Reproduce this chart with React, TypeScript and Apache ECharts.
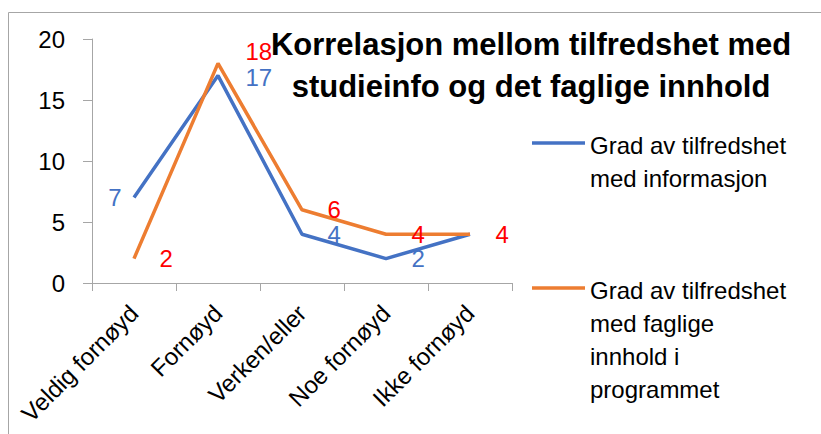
import React, { useEffect, useRef } from "react";
import * as echarts from "echarts";

const categories = ["Veldig fornøyd", "Fornøyd", "Verken/eller", "Noe fornøyd", "Ikke fornøyd"];
const infoValues = [7, 17, 4, 2, 4];
const fagligValues = [2, 18, 6, 4, 4];
const seriesNames = [
  "Grad av tilfredshet med informasjon",
  "Grad av tilfredshet med faglige innhold i programmet",
];
const legendLines = [
  ["Grad av tilfredshet", "med informasjon"],
  ["Grad av tilfredshet", "med faglige", "innhold i", "programmet"],
];
const titleText = "Korrelasjon mellom tilfredshet med\nstudieinfo og det faglige innhold";
const yMin = 0;
const yMax = 20;
const yInterval = 5;

const BLUE = "#4472C4";
const ORANGE = "#ED7D31";
const RED = "#FF0000";
const GREY = "#A6A6A6";
const FONT = "'Liberation Sans', Arial, sans-serif";

export default function App() {
  const ref = useRef<HTMLDivElement>(null);
  useEffect(() => {
    if (!ref.current) return;
    const chart = echarts.init(ref.current, null, { renderer: "svg" });

    const infoData = infoValues.map((v, i) => {
      if (i === 0) return { value: v, label: { position: "left", distance: 12 } };
      if (i === 1) return { value: v, label: { distance: 27, offset: [0, 2] } };
      if (i === infoValues.length - 1) return { value: v, label: { show: false } };
      return v;
    });
    const fagligData = fagligValues.map((v, i) => {
      if (i === 1) return { value: v, label: { distance: 27, offset: [0, -12] } };
      return v;
    });

    const legendGraphics: any[] = [];
    const legendTops = [128.5, 273.5];
    const legendIconY = [143, 288];
    const colors = [BLUE, ORANGE];
    legendLines.forEach((lines, i) => {
      legendGraphics.push({
        type: "line",
        shape: { x1: 532, y1: legendIconY[i], x2: 585, y2: legendIconY[i] },
        style: { stroke: colors[i], lineWidth: 3.5 },
      });
      legendGraphics.push({
        type: "text",
        x: 590,
        y: legendTops[i],
        style: {
          text: lines.join("\n"),
          fontSize: 24,
          fontFamily: FONT,
          lineHeight: 33,
          fill: "#000",
          verticalAlign: "top",
          align: "left",
        },
      });
    });

    const transparent = "rgba(0,0,0,0)";

    chart.setOption({
      animation: false,
      textStyle: { fontFamily: FONT },
      title: {
        text: titleText,
        left: 531,
        top: 23,
        padding: 0,
        textAlign: "center",
        textStyle: {
          fontSize: 31,
          fontWeight: "bold",
          lineHeight: 42,
          color: "#000",
          fontFamily: FONT,
        },
      },
      grid: { left: 92, top: 39, width: 420, height: 244 },
      xAxis: {
        type: "category",
        data: categories,
        boundaryGap: true,
        axisLine: { lineStyle: { color: GREY, width: 1 } },
        axisTick: { show: true, length: 8, lineStyle: { color: GREY } },
        axisLabel: {
          rotate: 45,
          interval: 0,
          fontSize: 24,
          color: "#000",
          margin: 26,
          fontFamily: FONT,
        },
      },
      yAxis: {
        type: "value",
        min: yMin,
        max: yMax,
        interval: yInterval,
        axisLine: { show: true, lineStyle: { color: GREY, width: 1 } },
        axisTick: { show: true, length: 9, lineStyle: { color: GREY } },
        splitLine: { show: false },
        axisLabel: { fontSize: 24, color: "#000", margin: 27, fontFamily: FONT },
      },
      series: [
        {
          name: seriesNames[0],
          type: "line",
          data: infoData,
          symbol: "circle",
          symbolSize: 1,
          showSymbol: true,
          lineStyle: { color: BLUE, width: 3.5 },
          itemStyle: { color: transparent, borderWidth: 0 },
          label: {
            show: true,
            position: "right",
            distance: 25,
            color: BLUE,
            fontSize: 24,
            lineHeight: 20,
            fontFamily: FONT,
          },
          z: 2,
        },
        {
          name: seriesNames[1],
          type: "line",
          data: fagligData,
          symbol: "circle",
          symbolSize: 1,
          showSymbol: true,
          lineStyle: { color: ORANGE, width: 3.5 },
          itemStyle: { color: transparent, borderWidth: 0 },
          label: {
            show: true,
            position: "right",
            distance: 25,
            color: RED,
            fontSize: 24,
            lineHeight: 20,
            fontFamily: FONT,
          },
          z: 3,
        },
      ],
      graphic: [
        {
          type: "rect",
          shape: { x: 8.5, y: 12.5, width: 900, height: 600 },
          style: { fill: "none", stroke: GREY, lineWidth: 1 },
          silent: true,
        },
        ...legendGraphics,
      ],
    });
    return () => chart.dispose();
  }, []);

  return (
    <div
      ref={ref}
      style={{ position: "absolute", left: 0, top: 0, width: 821, height: 434, background: "#fff" }}
    />
  );
}
